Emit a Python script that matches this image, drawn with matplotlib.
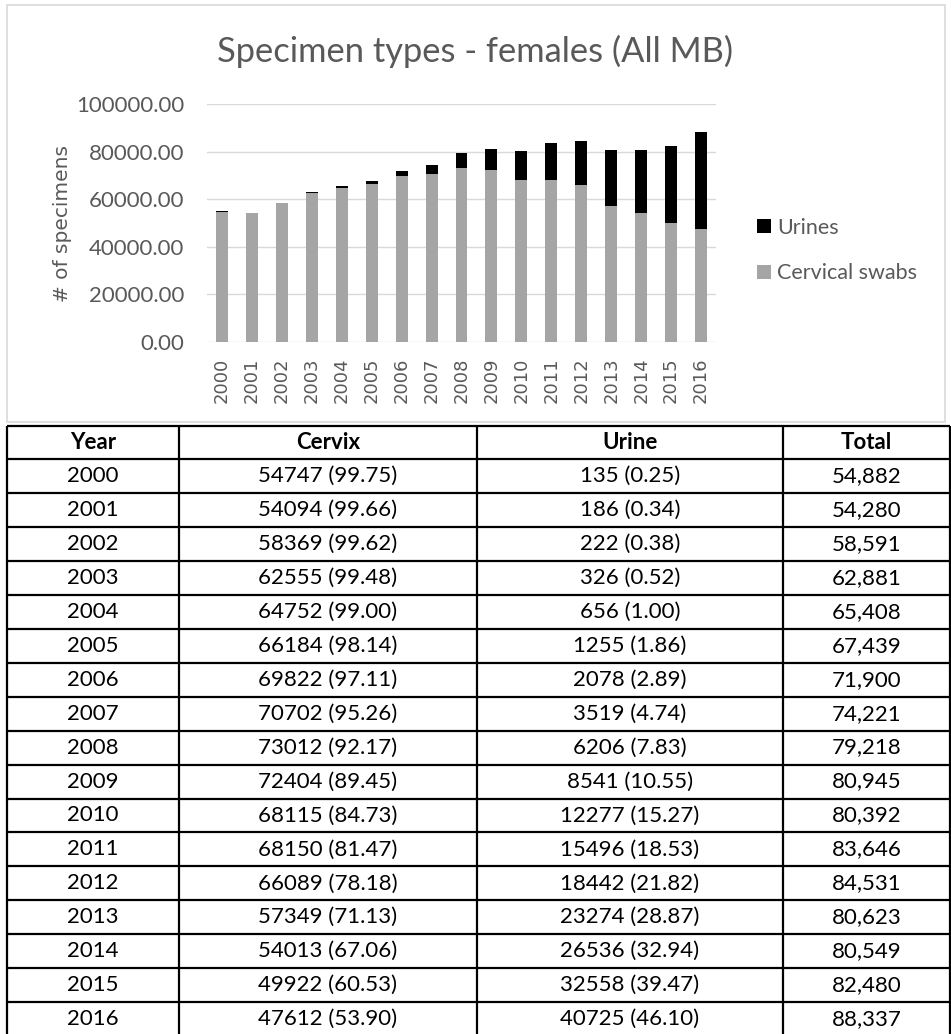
import matplotlib
matplotlib.use("Agg")
import matplotlib.pyplot as plt
from matplotlib.patches import Rectangle, Patch
import numpy as np

# ---------------- data ----------------
years = [2000, 2001, 2002, 2003, 2004, 2005, 2006, 2007, 2008,
         2009, 2010, 2011, 2012, 2013, 2014, 2015, 2016]
cervix = [54747, 54094, 58369, 62555, 64752, 66184, 69822, 70702, 73012,
          72404, 68115, 68150, 66089, 57349, 54013, 49922, 47612]
cervix_pct = ["99.75", "99.66", "99.62", "99.48", "99.00", "98.14", "97.11", "95.26", "92.17",
              "89.45", "84.73", "81.47", "78.18", "71.13", "67.06", "60.53", "53.90"]
urine = [135, 186, 222, 326, 656, 1255, 2078, 3519, 6206,
         8541, 12277, 15496, 18442, 23274, 26536, 32558, 40725]
urine_pct = ["0.25", "0.34", "0.38", "0.52", "1.00", "1.86", "2.89", "4.74", "7.83",
             "10.55", "15.27", "18.53", "21.82", "28.87", "32.94", "39.47", "46.10"]
total = [54882, 54280, 58591, 62881, 65408, 67439, 71900, 74221, 79218,
         80945, 80392, 83646, 84531, 80623, 80549, 82480, 88337]
yticks = [0, 20000, 40000, 60000, 80000, 100000]
table_header = ["Year", "Cervix", "Urine", "Total"]

TEXT = "#595959"
GRID = "#d9d9d9"
GRAY = "#a5a5a5"

W, H = 951, 1034
fig = plt.figure(figsize=(W / 100, H / 100), dpi=100)

# background / pixel-coordinate axes
bg = fig.add_axes([0, 0, 1, 1])
bg.set_xlim(0, W)
bg.set_ylim(H, 0)
bg.axis("off")

# chart border
bg.add_patch(Rectangle((7, 5), 938, 417, fill=False, edgecolor=GRID, linewidth=1.2))

# ---------------- chart ----------------
ax = fig.add_axes([207 / W, 1 - 342 / H, (716 - 207) / W, (342 - 104) / H])
x = np.arange(len(years))
ax.bar(x, cervix, width=0.4, color=GRAY, zorder=3)
ax.bar(x, urine, width=0.4, bottom=cervix, color="black", zorder=3)
ax.set_xlim(-0.5, len(years) - 0.5)
ax.set_ylim(0, 100000)
ax.set_yticks(yticks)
ax.set_yticklabels([f"{v:.2f}" for v in yticks], fontfamily="Lato", fontsize=16, color=TEXT)
ax.set_xticks(x)
ax.set_xticklabels([str(y) for y in years], rotation=90, fontfamily="DejaVu Sans",
                   fontsize=13, color=TEXT)
ax.tick_params(axis="y", length=0, pad=16.5)
ax.tick_params(axis="x", length=0, pad=11)
for s in ax.spines.values():
    s.set_visible(False)
ax.grid(axis="y", color=GRID, linewidth=1.0, zorder=0)
ax.set_axisbelow(True)
ax.patch.set_alpha(0)

fig.text(475 / W, 1 - 62 / H, "Specimen types - females (All MB)", ha="center", va="baseline",
         fontfamily="Lato", fontweight="normal", fontsize=24.8, color=TEXT)
fig.text(62 / W, 1 - 223 / H, "# of specimens", rotation=90, ha="center", va="center",
         fontfamily="DejaVu Sans", fontsize=14.5, color=TEXT)

handles = [Patch(facecolor="black"), Patch(facecolor=GRAY)]
leg = ax.legend(handles, ["Urines", "Cervical swabs"], loc="center left",
                bbox_to_anchor=(757 / W, 1 - 250.5 / H), bbox_transform=fig.transFigure,
                frameon=False, prop={"family": "Lato", "size": 15.5},
                handlelength=0.65, handleheight=0.65, handletextpad=0.3,
                labelspacing=1.2, borderpad=0, borderaxespad=0)
for t in leg.get_texts():
    t.set_color(TEXT)

# ---------------- table ----------------
col_x = [7, 179, 477, 783, 950]
top = 426
header_h = 33
row_h = 33.95
n_rows = len(years)
bottom = top + header_h + row_h * n_rows
lw = 1.6
for cx in col_x:
    bg.plot([cx, cx], [top, bottom], color="black", linewidth=lw, solid_capstyle="butt")
row_lines = [top, top + header_h] + [top + header_h + row_h * (i + 1) for i in range(n_rows)]
for ry in row_lines:
    bg.plot([col_x[0], col_x[-1]], [ry, ry], color="black", linewidth=lw, solid_capstyle="butt")

centers = [(col_x[i] + col_x[i + 1]) / 2 for i in range(4)]
for j, h in enumerate(table_header):
    bg.text(centers[j], top + header_h / 2, h, ha="center", va="center",
            fontfamily="Lato", fontweight="bold", fontsize=16, color="black")
for i in range(n_rows):
    yc = top + header_h + row_h * (i + 0.5)
    vals = [str(years[i]), f"{cervix[i]} ({cervix_pct[i]})",
            f"{urine[i]} ({urine_pct[i]})", f"{total[i]:,}"]
    for j, v in enumerate(vals):
        bg.text(centers[j], yc, v, ha="center", va="center",
                fontfamily="Lato", fontsize=16, color="black")

fig.savefig("out.png", dpi=100)
